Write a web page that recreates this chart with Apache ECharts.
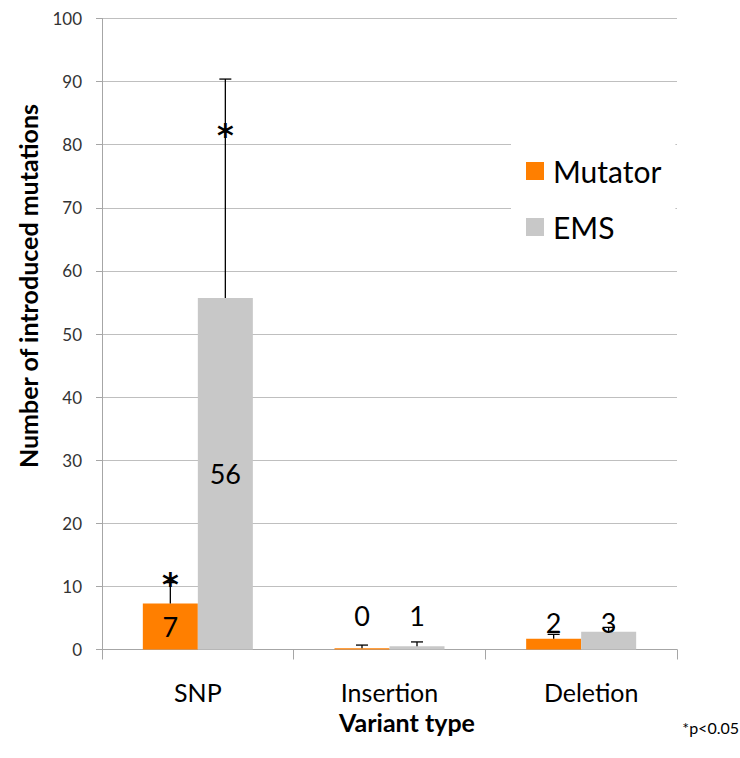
<!DOCTYPE html>
<html>
<head>
<meta charset="utf-8">
<script src="https://cdn.jsdelivr.net/npm/echarts@6/dist/echarts.min.js"></script>
<style>
  html, body { margin: 0; padding: 0; background: #fff; }
  #chart { width: 740px; height: 758px; }
</style>
</head>
<body>
<div id="chart"></div>
<script>
// Variant categories and mean counts per mutagenesis method
const categories = ['SNP', 'Insertion', 'Deletion'];
const seriesNames = ['Mutator', 'EMS'];
const mutatorValues = [7.3, 0.2, 1.7];
const emsValues = [55.7, 0.5, 2.8];
// Upper ends of the error bars
const mutatorErrTop = [10.6, 0.7, 2.4];
const emsErrTop = [90.4, 1.2, 3.5];
// Significance marks (value-axis height of the "*"), null = none
const mutatorSigAt = [10.4, null, null];
const emsSigAt = [81.5, null, null];
const yTicks = { min: 0, max: 100, interval: 10 };

const FONT = 'Lato, "Open Sans", sans-serif';
const COLORS = ['#FF7F00', '#C8C8C8'];
const CAT_GAP = 0.426; // share of each category left empty

function labelFor(catIndex) {
  // Tall bars carry their value centred; short bars carry it just above the base
  if (catIndex === 0) {
    return { show: true, position: 'inside' };
  }
  return { show: true, position: 'insideBottom', distance: catIndex === 1 ? 21 : 14 };
}

function barData(values) {
  return values.map((v, i) => ({ value: v, label: labelFor(i) }));
}

function errData(values, tops) {
  return values.map((v, i) => [i, tops[i], v]);
}

function sigData(marks) {
  return marks.map((m, i) => (m == null ? null : [i, m])).filter(Boolean);
}

function barOffset(api, side) {
  const band = api.size([1, 0])[0];
  const barW = band * (1 - CAT_GAP) / 2;
  return side * barW / 2;
}

function errorRenderer(side) {
  return function (params, api) {
    const top = api.coord([api.value(0), api.value(1)]);
    const base = api.coord([api.value(0), api.value(2)]);
    const x = top[0] + barOffset(api, side);
    const cap = 6;
    return {
      type: 'group',
      children: [
        { type: 'line', shape: { x1: x, y1: base[1], x2: x, y2: top[1] },
          style: { stroke: '#000', lineWidth: 1.3 } },
        { type: 'line', shape: { x1: x - cap, y1: top[1], x2: x + cap, y2: top[1] },
          style: { stroke: '#000', lineWidth: 1.3 } }
      ]
    };
  };
}

function sigRenderer(side) {
  return function (params, api) {
    const p = api.coord([api.value(0), api.value(1)]);
    return {
      type: 'text',
      x: p[0] + barOffset(api, side),
      y: p[1],
      style: { text: '*', fontSize: 32, fontWeight: 'bold', fontFamily: '"DejaVu Sans", sans-serif',
               fill: '#000', align: 'center', verticalAlign: 'middle' }
    };
  };
}

const chart = echarts.init(document.getElementById('chart'), null, { renderer: 'svg' });

chart.setOption({
  animation: false,
  backgroundColor: '#fff',
  textStyle: { fontFamily: FONT },
  grid: { left: 102, right: 63, top: 18.5, bottom: 108.5, containLabel: false },
  legend: {
    data: seriesNames,
    orient: 'vertical',
    left: 511,
    top: 134,
    padding: [22, 14, 22, 15],
    backgroundColor: '#fff',
    icon: 'rect',
    itemWidth: 18,
    itemHeight: 18,
    itemGap: 26,
    textStyle: { fontSize: 30, color: '#000', fontFamily: FONT, padding: [0, 0, 0, 4] }
  },
  xAxis: {
    type: 'category',
    data: categories.map((c, i) => (i === 2 ? { value: c, textStyle: { padding: [0, 0, 0, 20] } } : c)),
    axisLine: { lineStyle: { color: '#A6A6A6', width: 1 } },
    axisTick: { show: true, length: 10, lineStyle: { color: '#A6A6A6' } },
    axisLabel: { fontSize: 25, lineHeight: 24, color: '#000', margin: 30, fontFamily: FONT },
    splitLine: { show: false }
  },
  yAxis: {
    type: 'value',
    min: yTicks.min,
    max: yTicks.max,
    interval: yTicks.interval,
    axisLine: { show: true, lineStyle: { color: '#A6A6A6', width: 1 } },
    axisTick: { show: true, length: 6, lineStyle: { color: '#A6A6A6' } },
    axisLabel: { fontSize: 17, color: '#333', margin: 20, fontFamily: FONT },
    splitLine: { show: true, lineStyle: { color: '#BFBFBF', width: 1 } }
  },
  graphic: [
    { type: 'text', x: 28, y: 286, rotation: Math.PI / 2,
      style: { text: 'Number of introduced mutations', fontSize: 25, fontWeight: 'bold',
               fontFamily: FONT, fill: '#000', align: 'center', verticalAlign: 'middle' } },
    { type: 'text', x: 407, y: 722,
      style: { text: 'Variant type', fontSize: 25, lineHeight: 24, fontWeight: 'bold',
               fontFamily: FONT, fill: '#000', align: 'center', verticalAlign: 'middle' } },
    { type: 'text', x: 739, y: 727,
      style: { text: '*p<0.05', fontSize: 16, fontFamily: FONT, fill: '#000',
               align: 'right', verticalAlign: 'middle' } }
  ],
  series: [
    {
      name: seriesNames[0], type: 'bar', data: barData(mutatorValues),
      itemStyle: { color: COLORS[0] }, barGap: '0%', barCategoryGap: (CAT_GAP * 100) + '%',
      label: { fontSize: 27, color: '#000', fontFamily: FONT, formatter: p => Math.round(p.value) }
    },
    {
      name: seriesNames[1], type: 'bar', data: barData(emsValues),
      itemStyle: { color: COLORS[1] }, barGap: '0%', barCategoryGap: (CAT_GAP * 100) + '%',
      label: { fontSize: 27, color: '#000', fontFamily: FONT, formatter: p => Math.round(p.value) }
    },
    { type: 'custom', renderItem: errorRenderer(-1), data: errData(mutatorValues, mutatorErrTop), z: 5, silent: true },
    { type: 'custom', renderItem: errorRenderer(1), data: errData(emsValues, emsErrTop), z: 5, silent: true },
    { type: 'custom', renderItem: sigRenderer(-1), data: sigData(mutatorSigAt), z: 6, silent: true },
    { type: 'custom', renderItem: sigRenderer(1), data: sigData(emsSigAt), z: 6, silent: true }
  ]
});
</script>
</body>
</html>
